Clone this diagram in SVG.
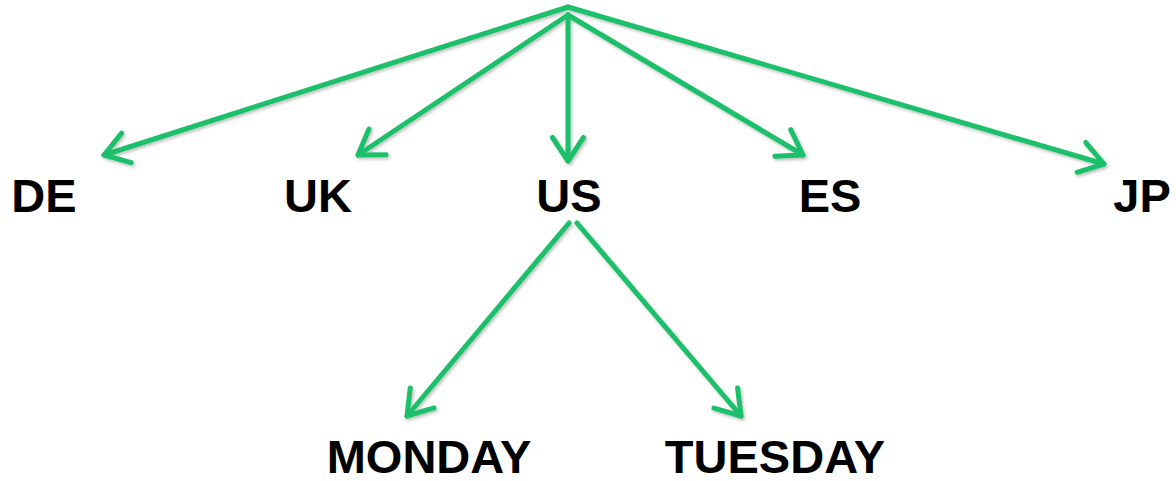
<svg xmlns="http://www.w3.org/2000/svg" width="1176" height="481" viewBox="0 0 1176 481">
<defs>
<style>
.lbl{font-family:"Liberation Sans",Arial,sans-serif;font-weight:bold;font-size:47px;fill:#000;text-anchor:middle}
.edge{stroke:#1CBF6B;stroke-width:5;fill:none;stroke-linecap:round;stroke-linejoin:round;marker-end:url(#ah)}
</style>
<marker id="ah" markerWidth="8" markerHeight="8" refX="6" refY="4" orient="auto" markerUnits="strokeWidth" viewBox="0 0 8 8">
<path d="M1.3,0.9 L6,4 L1.3,7.1" fill="none" stroke="#1CBF6B" stroke-width="1" stroke-linecap="round" stroke-linejoin="round"/>
</marker>
<filter id="sh" x="-10%" y="-10%" width="120%" height="120%">
<feDropShadow dx="1.5" dy="2" stdDeviation="1.5" flood-color="#000" flood-opacity="0.25"/>
</filter>
</defs>
<g id="connectors" filter="url(#sh)">
<line class="edge" x1="568" y1="7" x2="104" y2="155"/>
<line class="edge" x1="568" y1="15" x2="358" y2="155"/>
<line class="edge" x1="568" y1="15" x2="568" y2="161"/>
<line class="edge" x1="568" y1="15" x2="803" y2="155"/>
<line class="edge" x1="568" y1="7" x2="1104" y2="164"/>
<line class="edge" x1="569" y1="223" x2="407" y2="416"/>
<line class="edge" x1="577" y1="223" x2="741" y2="416"/>
</g>
<g id="node-DE"><text class="lbl" x="44" y="212">DE</text></g>
<g id="node-UK"><text class="lbl" x="318" y="212">UK</text></g>
<g id="node-US"><text class="lbl" x="569" y="212">US</text></g>
<g id="node-ES"><text class="lbl" x="830" y="212">ES</text></g>
<g id="node-JP"><text class="lbl" x="1142" y="212">JP</text></g>
<g id="node-MONDAY"><text class="lbl" x="429" y="473">MONDAY</text></g>
<g id="node-TUESDAY"><text class="lbl" x="775" y="473">TUESDAY</text></g>
</svg>
